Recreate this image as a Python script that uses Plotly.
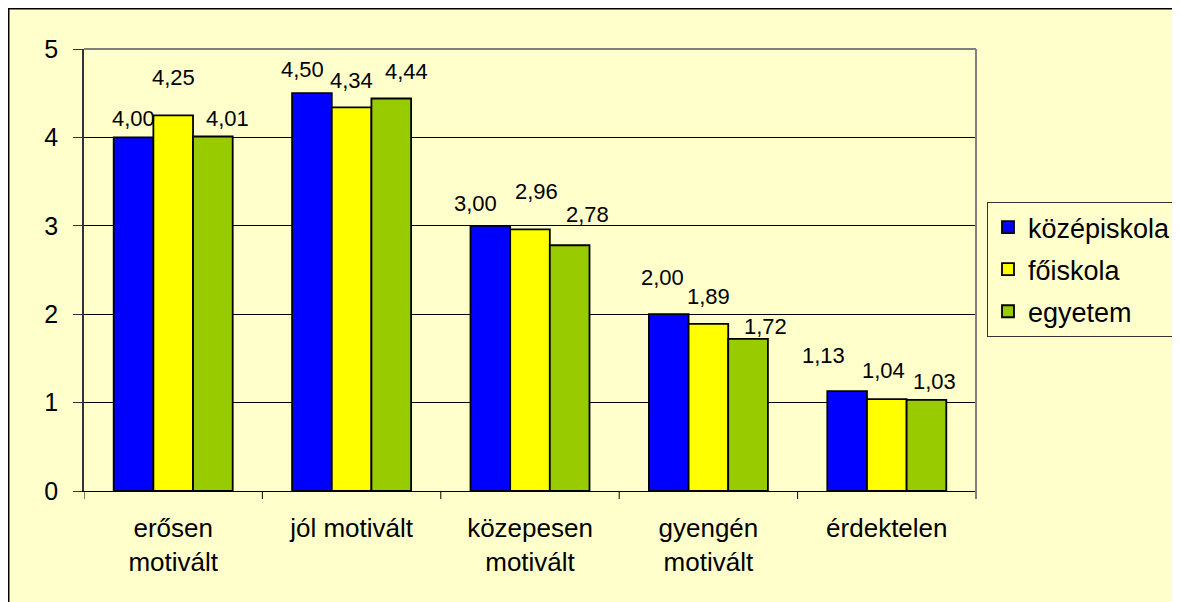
import plotly.graph_objects as go

categories = ["erősen<br>motivált", "jól motivált", "közepesen<br>motivált", "gyengén<br>motivált", "érdektelen"]
series_names = ["középiskola", "főiskola", "egyetem"]
kozepiskola = [4.00, 4.50, 3.00, 2.00, 1.13]
foiskola = [4.25, 4.34, 2.96, 1.89, 1.04]
egyetem = [4.01, 4.44, 2.78, 1.72, 1.03]
y_ticks = [0, 1, 2, 3, 4, 5]

colors = ["#0000FF", "#FFFF00", "#99CC00"]
# label offsets in pixels (dx, dy) per series, per category (style only)
label_dx = [[0, -9, -15, -6, -24], [0, 0, 6, 0, -3], [15, 15, 18, 17, 8]]
label_dy = [[19, 24, 22, 37, 36], [38, 27, 38, 27, 29], [18, 27, 31, 12, 18]]

BG = "#FFFFCC"
FONT = "Liberation Sans, Arial, sans-serif"

# the page has an 8px body margin; figure is sized to fill the rest of the window
W, H = 1172, 594
ML, MT, MR, MB = 76, 41, 204, 111
PW, PH = W - ML - MR, H - MT - MB

fig = go.Figure()
all_series = [kozepiskola, foiskola, egyetem]
for k, (name, vals) in enumerate(zip(series_names, all_series)):
    fig.add_trace(go.Bar(
        x=list(range(len(categories))), y=vals, name=name,
        marker=dict(color=colors[k], line=dict(color="#000000", width=1.8)),
        legendgroup=name,
    ))

group_w = 1 - 0.333
bar_w = group_w / 3
annotations = []
for k, vals in enumerate(all_series):
    for i, v in enumerate(vals):
        annotations.append(dict(
            x=i + (k - 1) * bar_w, y=v, xref="x", yref="y",
            text=f"{v:.2f}".replace(".", ","), showarrow=False,
            xanchor="center", yanchor="middle",
            xshift=label_dx[k][i], yshift=label_dy[k][i],
            font=dict(family=FONT, size=22, color="#000000"),
        ))

fig.update_layout(
    width=W, height=H,
    paper_bgcolor=BG, plot_bgcolor=BG,
    margin=dict(l=ML, r=MR, t=MT, b=MB, autoexpand=False),
    barmode="group", bargap=0.333, bargroupgap=0,
    font=dict(family=FONT, size=25, color="#000000"),
    showlegend=True,
    legend=dict(
        x=(979 - ML) / PW, y=(H - MB - 194) / PH, xanchor="left", yanchor="top",
        bgcolor=BG, bordercolor="#333333", borderwidth=1,
        font=dict(family=FONT, size=27, color="#000000"),
        traceorder="grouped", tracegroupgap=4,
        itemwidth=30,
    ),
    annotations=annotations,
    xaxis=dict(
        tickmode="array", tickvals=list(range(len(categories))), ticktext=categories,
        range=[-0.5, len(categories) - 0.5],
        showline=True, linecolor="#000000", linewidth=1,
        ticks="", showgrid=False, zeroline=False,
        tickfont=dict(family=FONT, size=26, color="#000000"),
        ticklabelstandoff=14,
        fixedrange=True,
    ),
    yaxis=dict(
        range=[0, 5], tickvals=y_ticks,
        showline=True, linecolor="#333333", linewidth=1.5,
        ticks="outside", ticklen=9, tickcolor="#333333",
        showgrid=True, gridcolor="#000000", gridwidth=1,
        zeroline=False,
        tickfont=dict(family=FONT, size=25, color="#000000"),
        ticklabelstandoff=10,
    ),
)

# category boundary ticks on the x axis
for b in range(len(categories) + 1):
    fig.add_shape(type="line", xref="x", yref="paper",
                  x0=b - 0.5, x1=b - 0.5, y0=0, y1=-8 / PH,
                  line=dict(color="#000000", width=1))
# gray plot-area border (top and right)
fig.add_shape(type="line", xref="paper", yref="paper", x0=0, x1=1, y0=1, y1=1,
              line=dict(color="#808080", width=2), layer="above")
fig.add_shape(type="line", xref="paper", yref="paper", x0=1, x1=1, y0=-8 / PH, y1=1,
              line=dict(color="#808080", width=2), layer="above")
# outer chart border (left and top edges visible)
fig.add_shape(type="rect", xref="paper", yref="paper",
              x0=(0.75 - ML) / PW, x1=(W + 20 - ML) / PW,
              y0=-(MB + 20) / PH, y1=(H - MB - 0.75) / PH,
              line=dict(color="#000000", width=1.5), fillcolor="rgba(0,0,0,0)", layer="below")

fig.write_html("out.html")
